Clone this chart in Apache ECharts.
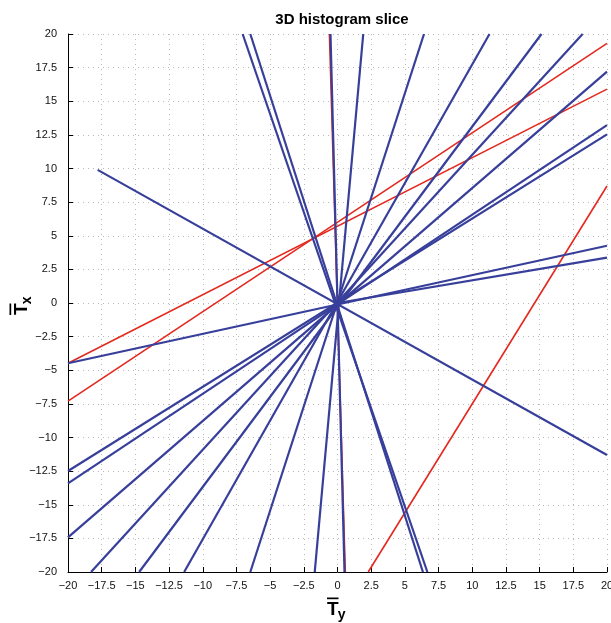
<!DOCTYPE html>
<html>
<head>
<meta charset="utf-8">
<script src="https://cdn.jsdelivr.net/npm/echarts@6/dist/echarts.min.js"></script>
<style>
html,body{margin:0;padding:0;background:#fff;overflow:hidden;}
#chart{width:611px;height:623px;}
</style>
</head>
<body>
<div id="chart"></div>
<script>
// Axis ticks
const tickInterval = 2.5;
const axisMin = -20;
const axisMax = 20;

// Blue segments: start [Ty, Tx] and end [Ty, Tx]
const blueStart = [
  [-7.04, 20], [-6.47, 20], [-0.52, 20], [1.91, 20], [6.42, 20],
  [11.28, 20], [15.14, 20], [18.19, 20], [20, 17.2], [20, 13.23],
  [20, 12.54], [20, 4.26], [20, 3.37], [-17.8, 9.9]
];
const blueEnd = [
  [6.67, -20], [6.34, -20], [0.52, -20], [-1.69, -20], [-6.47, -20],
  [-11.38, -20], [-14.72, -20], [-18.29, -20], [-20, -17.42], [-20, -13.41],
  [-20, -12.49], [-20, -4.48], [0, 0], [20, -11.3]
];

// Red segments
const redStart = [[-20, -4.48], [-20, -7.29], [2.28, -20], [-0.6, 20]];
const redEnd = [[20, 15.9], [20, 19.3], [20, 8.7], [0.58, -20]];

const fmt = v => (v < 0 ? '\u2212' + Math.abs(v) : String(v));

const series = [];
redStart.forEach((s, i) => {
  series.push({
    type: 'line', data: [s, redEnd[i]], symbol: 'none', silent: true,
    lineStyle: { color: '#e3291f', width: 1.6 }, z: 2, animation: false
  });
});
blueStart.forEach((s, i) => {
  series.push({
    type: 'line', data: [s, blueEnd[i]], symbol: 'none', silent: true,
    lineStyle: { color: '#373f9a', width: 2.2 }, z: 3, animation: false
  });
});

const labelFont = { color: '#111', fontSize: 11, fontFamily: 'Liberation Sans, Arial, sans-serif' };

const axisCommon = {
  type: 'value', min: axisMin, max: axisMax, interval: tickInterval,
  axisLine: { show: true, onZero: false, lineStyle: { color: '#000', width: 1 } },
  axisTick: { show: true, inside: true, length: 5, lineStyle: { color: '#000', width: 1 } },
  splitLine: { show: true, lineStyle: { color: '#b8b8b8', width: 1, type: [1, 4] } }
};

function label(main, sub, x, y, rot) {
  return {
    type: 'group', x: x, y: y, rotation: rot,
    children: [
      { type: 'rect', shape: { x: 0, y: -12.5, width: 11.5, height: 1.7 }, style: { fill: '#000' } },
      { type: 'text', x: 0, y: 0, style: { text: main, fontSize: 19, fontWeight: 'bold', fontFamily: 'Liberation Sans, Arial, sans-serif', fill: '#000', align: 'left', verticalAlign: 'middle' } },
      { type: 'text', x: 10.8, y: 5.5, style: { text: sub, fontSize: 14, fontWeight: 'bold', fontFamily: 'Liberation Sans, Arial, sans-serif', fill: '#000', align: 'left', verticalAlign: 'middle' } }
    ]
  };
}

const chart = echarts.init(document.getElementById('chart'), null, { renderer: 'canvas' });
chart.setOption({
  animation: false,
  backgroundColor: '#fff',
  title: {
    text: '3D histogram slice', left: 337, top: 7, textAlign: 'center',
    textStyle: { fontSize: 15, fontWeight: 'bold', color: '#000', fontFamily: 'Liberation Sans, Arial, sans-serif' }
  },
  grid: { left: 68, right: 4, top: 34, bottom: 51, containLabel: false, outerBoundsMode: 'none' },
  xAxis: Object.assign({}, axisCommon, {
    axisLabel: Object.assign({ formatter: fmt, hideOverlap: false, showMinLabel: true, showMaxLabel: true, margin: 8 }, labelFont)
  }),
  yAxis: Object.assign({}, axisCommon, {
    axisLabel: Object.assign({ formatter: fmt, hideOverlap: false, showMinLabel: true, showMaxLabel: true, margin: 11 }, labelFont)
  }),
  series: series,
  graphic: [
    label('T', 'y', 327, 610, 0),
    label('T', 'x', 22, 315, Math.PI / 2)
  ]
});
</script>
</body>
</html>
